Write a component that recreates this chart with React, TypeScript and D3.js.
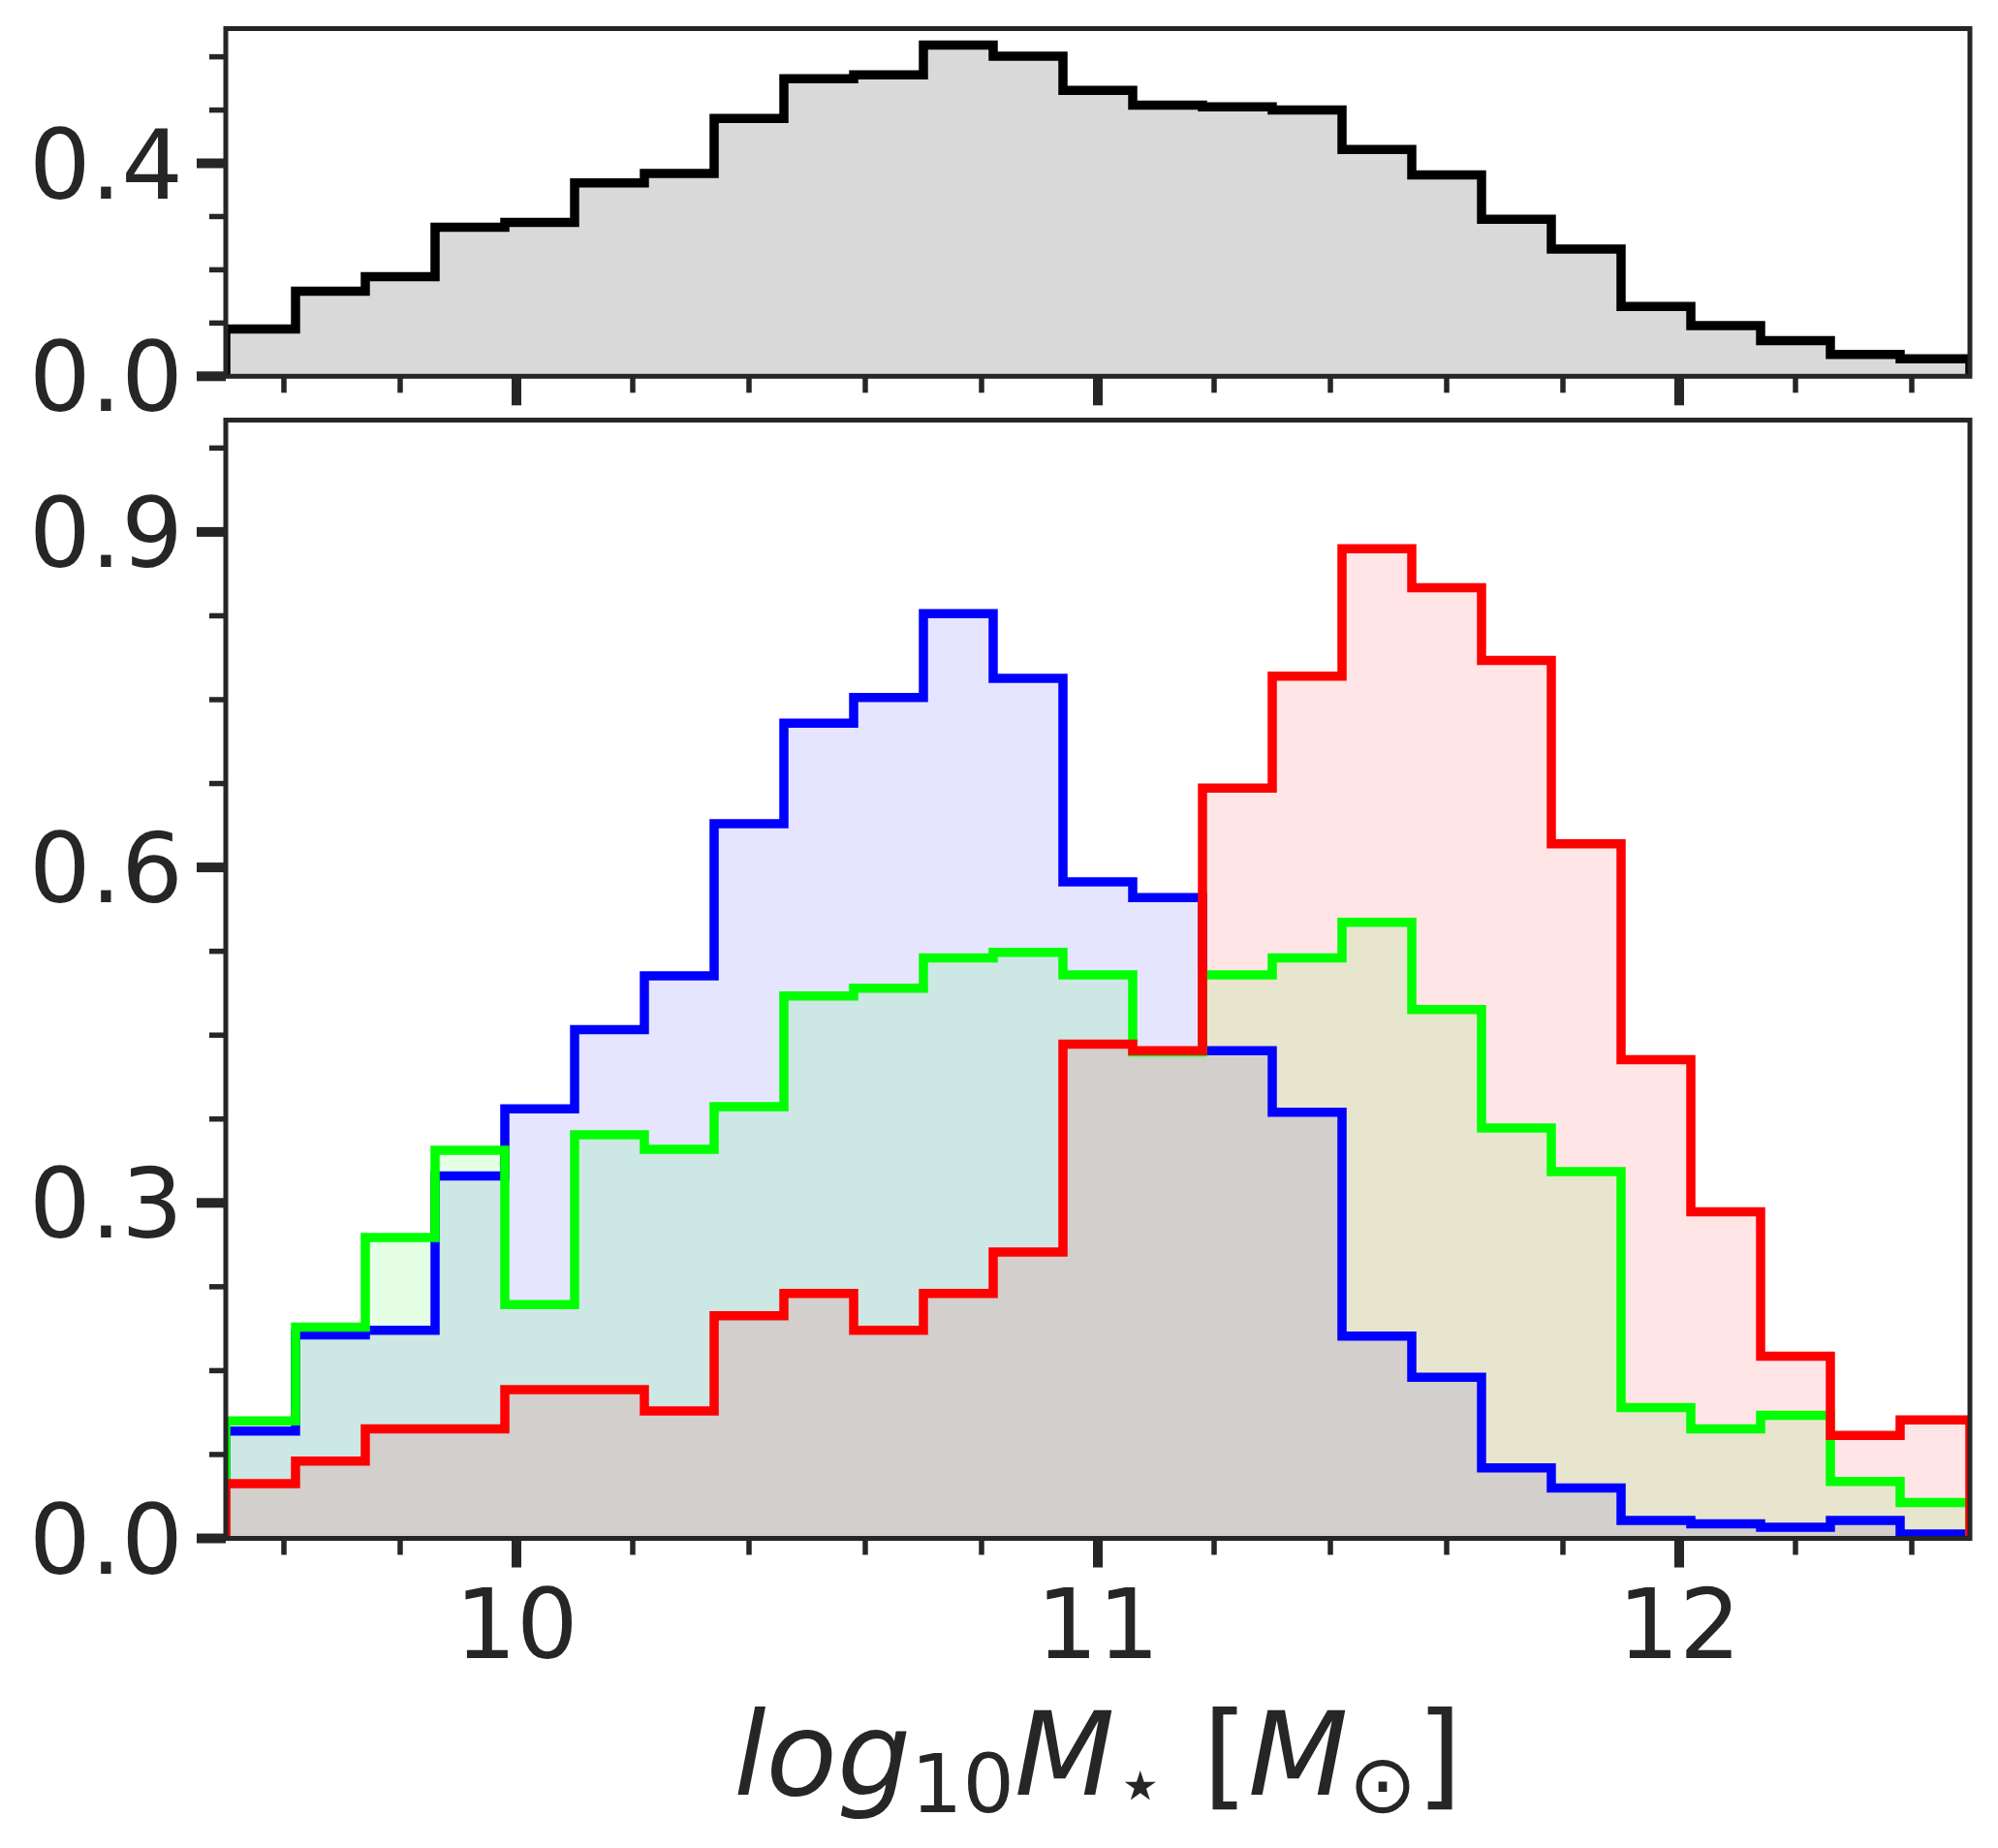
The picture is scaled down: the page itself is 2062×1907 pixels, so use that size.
import { useMemo } from "react";
import * as d3 from "d3";

const WIDTH = 2062;
const HEIGHT = 1907;
const PLOT = { left: 233, right: 2033 };
const TOP_PANEL = { top: 29.5, bottom: 388.3 };
const LOW_PANEL = { top: 433.5, bottom: 1587.5 };
const INK = "#262626";
const FONT = "DejaVu Sans";

// 25 bins of width 0.12 between 9.5 and 12.5
const binEdges = [
  9.5, 9.62, 9.74, 9.86, 9.98, 10.1, 10.22, 10.34, 10.46, 10.58, 10.7, 10.82, 10.94,
  11.06, 11.18, 11.3, 11.42, 11.54, 11.66, 11.78, 11.9, 12.02, 12.14, 12.26, 12.38, 12.5,
];

const allGalaxies = [
  0.089, 0.16, 0.187, 0.28, 0.289, 0.363, 0.381, 0.484, 0.559, 0.566, 0.622, 0.601, 0.537,
  0.509, 0.506, 0.5, 0.426, 0.378, 0.295, 0.239, 0.131, 0.095, 0.067, 0.041, 0.033,
];
const blueSeries = [
  0.096, 0.182, 0.186, 0.324, 0.384, 0.455, 0.503, 0.639, 0.729, 0.752, 0.827, 0.769, 0.587,
  0.573, 0.436, 0.381, 0.181, 0.144, 0.063, 0.045, 0.016, 0.013, 0.01, 0.016, 0.004,
];
const greenSeries = [
  0.105, 0.189, 0.269, 0.347, 0.209, 0.361, 0.348, 0.386, 0.485, 0.492, 0.519, 0.524, 0.504,
  0.435, 0.504, 0.519, 0.551, 0.473, 0.367, 0.328, 0.117, 0.098, 0.11, 0.051, 0.032,
];
const redSeries = [
  0.049, 0.069, 0.098, 0.098, 0.133, 0.133, 0.114, 0.199, 0.219, 0.186, 0.219, 0.256, 0.442,
  0.436, 0.671, 0.771, 0.885, 0.85, 0.785, 0.621, 0.428, 0.292, 0.163, 0.092, 0.106,
];

const xMajor = [10, 11, 12];
const xMinor = [9.6, 9.8, 10.2, 10.4, 10.6, 10.8, 11.2, 11.4, 11.6, 11.8, 12.2, 12.4];
const topMajor = [0, 0.4];
const topMinor = [0.1, 0.2, 0.3, 0.5, 0.6];
const lowMajor = [0, 0.3, 0.6, 0.9];
const lowMinor = [0.075, 0.15, 0.225, 0.375, 0.45, 0.525, 0.675, 0.75, 0.825, 0.975];

const stepPoints = (values: number[]): [number, number][] => {
  const pts: [number, number][] = [[binEdges[0], 0]];
  values.forEach((v, i) => {
    pts.push([binEdges[i], v]);
    pts.push([binEdges[i + 1], v]);
  });
  pts.push([binEdges[binEdges.length - 1], 0]);
  return pts;
};

type PanelProps = {
  id: string;
  top: number;
  bottom: number;
  yMax: number;
  major: number[];
  minor: number[];
  xLabels: boolean;
  series: { values: number[]; color: string; fill: string; fillOpacity: number }[];
};

const Panel = ({ id, top, bottom, yMax, major, minor, xLabels, series }: PanelProps) => {
  const xScale = useMemo(
    () => d3.scaleLinear().domain([9.5, 12.5]).range([PLOT.left, PLOT.right]),
    []
  );
  const yScale = useMemo(
    () => d3.scaleLinear().domain([0, yMax]).range([bottom, top]),
    [top, bottom, yMax]
  );
  const line = d3
    .line<[number, number]>()
    .x((d) => xScale(d[0]))
    .y((d) => yScale(d[1]));

  return (
    <g>
      <defs>
        <clipPath id={id}>
          <rect x={PLOT.left} y={top} width={PLOT.right - PLOT.left} height={bottom - top} />
        </clipPath>
      </defs>
      <g clipPath={`url(#${id})`}>
        {series.map((s, i) => (
          <path
            key={"f" + i}
            d={line(stepPoints(s.values)) + "Z"}
            fill={s.fill}
            fillOpacity={s.fillOpacity}
            stroke="none"
          />
        ))}
        {series.map((s, i) => (
          <path
            key={"l" + i}
            d={line(stepPoints(s.values)) ?? ""}
            fill="none"
            stroke={s.color}
            strokeWidth={9.5}
            strokeLinejoin="miter"
          />
        ))}
      </g>
      {/* y ticks */}
      {major.map((t) => (
        <g key={"ym" + t}>
          <line x1={PLOT.left - 30} x2={PLOT.left} y1={yScale(t)} y2={yScale(t)} stroke={INK} strokeWidth={10} />
          <text
            x={PLOT.left - 44}
            y={yScale(t) + 36}
            textAnchor="end"
            fontFamily={FONT}
            fontSize={100}
            fill={INK}
          >
            {t.toFixed(1)}
          </text>
        </g>
      ))}
      {minor.map((t) => (
        <line key={"yn" + t} x1={PLOT.left - 17} x2={PLOT.left} y1={yScale(t)} y2={yScale(t)} stroke={INK} strokeWidth={5.5} />
      ))}
      {/* x ticks */}
      {xMajor.map((t) => (
        <g key={"xm" + t}>
          <line x1={xScale(t)} x2={xScale(t)} y1={bottom} y2={bottom + 30} stroke={INK} strokeWidth={10} />
          {xLabels && (
            <text x={xScale(t)} y={bottom + 123} textAnchor="middle" fontFamily={FONT} fontSize={100} fill={INK}>
              {t}
            </text>
          )}
        </g>
      ))}
      {xMinor.map((t) => (
        <line key={"xn" + t} x1={xScale(t)} x2={xScale(t)} y1={bottom} y2={bottom + 17} stroke={INK} strokeWidth={5.5} />
      ))}
      <rect
        x={PLOT.left}
        y={top}
        width={PLOT.right - PLOT.left}
        height={bottom - top}
        fill="none"
        stroke={INK}
        strokeWidth={5}
      />
    </g>
  );
};

export default function App() {
  return (
    <svg
      width={WIDTH}
      height={HEIGHT}
      style={{ position: "absolute", left: 0, top: 0, background: "#fff" }}
    >
      <rect width={WIDTH} height={HEIGHT} fill="#fff" />
      <Panel
        id="clipTop"
        top={TOP_PANEL.top}
        bottom={TOP_PANEL.bottom}
        yMax={0.653}
        major={topMajor}
        minor={topMinor}
        xLabels={false}
        series={[{ values: allGalaxies, color: "#000000", fill: "#000000", fillOpacity: 0.15 }]}
      />
      <Panel
        id="clipLow"
        top={LOW_PANEL.top}
        bottom={LOW_PANEL.bottom}
        yMax={1.0}
        major={lowMajor}
        minor={lowMinor}
        xLabels={true}
        series={[
          { values: blueSeries, color: "#0000ff", fill: "#0000ff", fillOpacity: 0.1 },
          { values: greenSeries, color: "#00ff00", fill: "#00ff00", fillOpacity: 0.1 },
          { values: redSeries, color: "#ff0000", fill: "#ff0000", fillOpacity: 0.1 },
        ]}
      />
      <text x={1133} y={1852} textAnchor="middle" fontFamily={FONT} fontSize={120} fill={INK}>
        <tspan fontStyle="italic">log</tspan>
        <tspan fontSize={84} dy={18}>10</tspan>
        <tspan fontStyle="italic" dy={-18}>M</tspan>
        <tspan fontSize={84} dy={18}>{"\u22C6"}</tspan>
        <tspan dy={-18}>{" ["}</tspan>
        <tspan fontStyle="italic">M</tspan>
        <tspan fontSize={84} dy={18}>{"\u2299"}</tspan>
        <tspan dy={-18}>]</tspan>
      </text>
    </svg>
  );
}
